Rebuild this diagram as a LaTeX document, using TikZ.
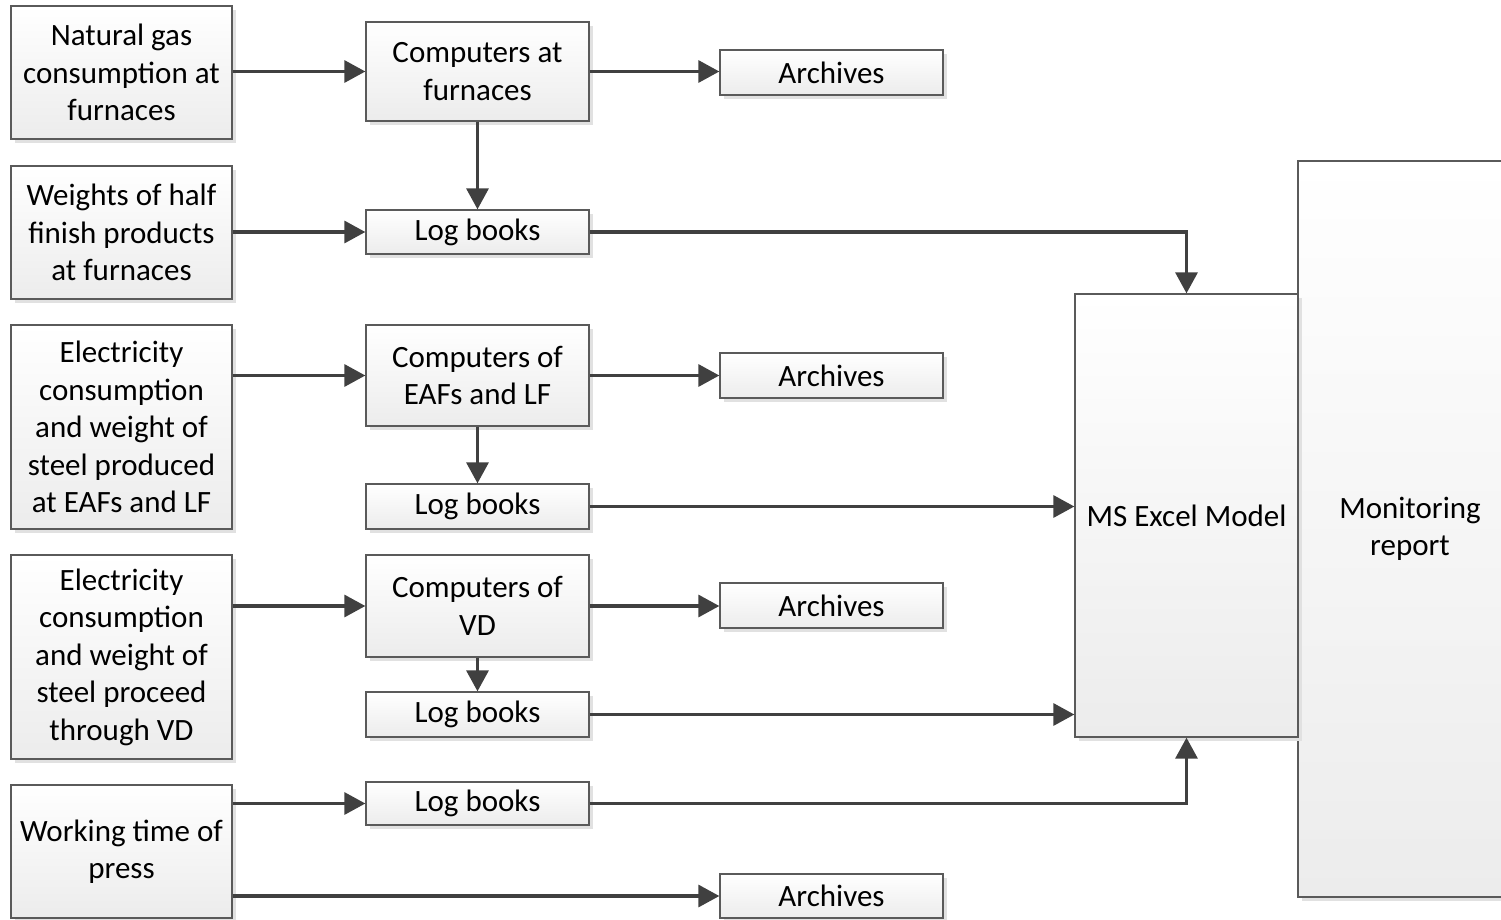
\documentclass[tikz,border=0pt]{standalone}
\usepackage{fontspec}
\setmainfont{Carlito}
\usetikzlibrary{arrows.meta,shadows,calc}
\definecolor{bordergray}{RGB}{90,90,90}
\definecolor{arrowgray}{RGB}{64,64,64}
\definecolor{boxbottom}{RGB}{236,236,236}
\definecolor{shadowgray}{RGB}{225,225,225}
\tikzset{
  box/.style={draw=bordergray, line width=1.3pt, inner sep=0pt, align=center,
    top color=white, bottom color=boxbottom,
    drop shadow={shadow xshift=4pt, shadow yshift=-4pt, fill=shadowgray, opacity=1},
    font=\fontsize{31}{37.5}\selectfont},
  flow/.style={draw=arrowgray, line width=3.2pt, -{Triangle[length=21pt,width=22pt]}},
}
% place a box from pixel corners (x1,y1)-(x2,y2)
\newcommand{\pbox}[6]{%
  \node[box, minimum width={(#4-#2)*1pt}, minimum height={(#5-#3)*1pt}] (#1)
    at ({(#2+#4)/2},{(#3+#5)/2}) {#6};}
\begin{document}
\begin{tikzpicture}[x=1pt,y=-1pt]
\useasboundingbox (0,0) rectangle (1501,919);
% right-hand boxes
\pbox{mon}{1298}{161}{1522}{897}{Monitoring\\report}
\pbox{excel}{1075}{294}{1298}{737}{MS Excel Model}
% left column
\pbox{n1}{11}{6}{232}{139}{Natural gas\\consumption at\\furnaces}
\pbox{n2}{11}{166}{232}{299}{Weights of half\\finish products\\at furnaces}
\pbox{n3}{11}{325}{232}{529}{Electricity\\consumption\\and weight of\\steel produced\\at EAFs and LF}
\pbox{n4}{11}{555}{232}{759}{Electricity\\consumption\\and weight of\\steel proceed\\through VD}
\pbox{n5}{11}{785}{232}{918}{Working time of\\press}
% middle column
\pbox{c1}{366}{22}{589}{121}{Computers at\\furnaces}
\pbox{l1}{366}{210}{589}{254}{Log books}
\pbox{c2}{366}{325}{589}{426}{Computers of\\EAFs and LF}
\pbox{l2}{366}{484}{589}{529}{Log books}
\pbox{c3}{366}{555}{589}{657}{Computers of\\VD}
\pbox{l3}{366}{692}{589}{737}{Log books}
\pbox{l4}{366}{782}{589}{825}{Log books}
% archives
\pbox{a1}{720}{50}{943}{95}{Archives}
\pbox{a2}{720}{353}{943}{398}{Archives}
\pbox{a3}{720}{583}{943}{628}{Archives}
\pbox{a4}{720}{874}{943}{918}{Archives}
% connectors
\draw[flow] (n1.east |- c1.west) -- (c1.west);
\draw[flow] (c1.east) -- (c1.east -| a1.west);
\draw[flow] (c1.south) -- (l1.north);
\draw[flow] (n2.east |- l1.west) -- (l1.west);
\draw[flow] (l1.east) -| (excel.north);
\draw[flow] (n3.east |- c2.west) -- (c2.west);
\draw[flow] (c2.east) -- (c2.east -| a2.west);
\draw[flow] (c2.south) -- (l2.north);
\draw[flow] (l2.east) -- (l2.east -| excel.west);
\draw[flow] (n4.east |- c3.west) -- (c3.west);
\draw[flow] (c3.east) -- (c3.east -| a3.west);
\draw[flow] (c3.south) -- (l3.north);
\draw[flow] (l3.east) -- (l3.east -| excel.west);
\draw[flow] (n5.east |- l4.west) -- (l4.west);
\draw[flow] (l4.east) -| (excel.south);
\draw[flow] (n5.east |- a4.west) -- (a4.west);
\end{tikzpicture}
\end{document}
